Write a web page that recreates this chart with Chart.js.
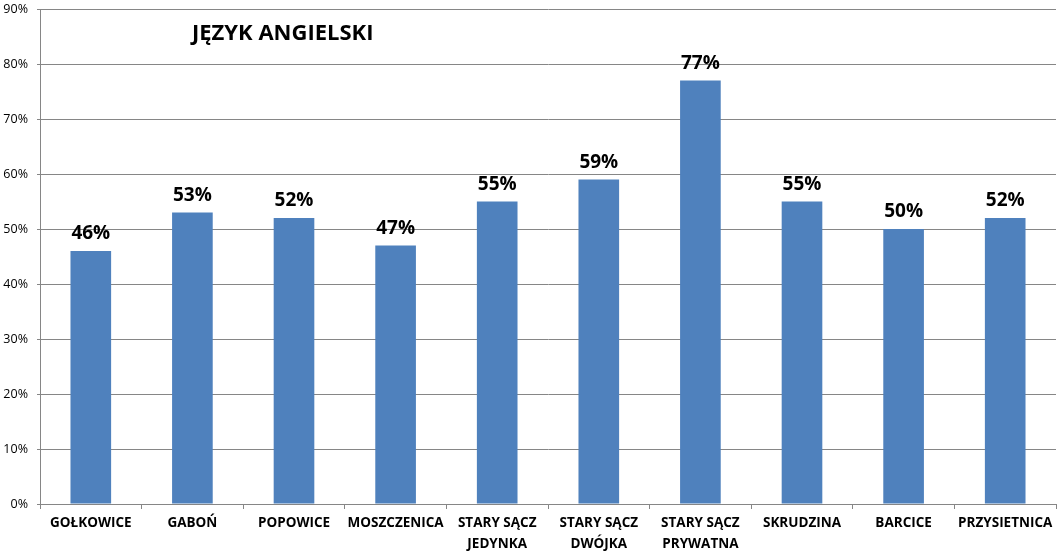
<!DOCTYPE html>
<html>
<head>
<meta charset="utf-8">
<script src="https://cdn.jsdelivr.net/npm/chart.js@4"></script>
<style>
  html, body { margin: 0; padding: 0; background: #fff; }
  #wrap { width: 1064px; height: 558px; }
</style>
</head>
<body>
<div id="wrap"><canvas id="stage" width="1064" height="558"></canvas></div>
<script>
// dane
var schools = ["GOŁKOWICE", "GABOŃ", "POPOWICE", "MOSZCZENICA", ["STARY SĄCZ", "JEDYNKA"], ["STARY SĄCZ", "DWÓJKA"], ["STARY SĄCZ", "PRYWATNA"], "SKRUDZINA", "BARCICE", "PRZYSIETNICA"];
var scores = [46, 53, 52, 47, 55, 59, 77, 55, 50, 52];
var chartTitle = "JĘZYK ANGIELSKI";

// etykiety nad słupkami + tytuł w polu wykresu
var labelsPlugin = {
    id: 'labelsPlugin',
    afterDatasetsDraw: function (chart) {
        var ctx = chart.ctx;
        var meta = chart.getDatasetMeta(0);
        ctx.save();
        ctx.fillStyle = '#000';
        ctx.textAlign = 'center';
        ctx.textBaseline = 'middle';
        ctx.font = 'bold 19px "Open Sans"';
        meta.data.forEach(function (bar, i) {
            ctx.fillText(scores[i] + '%', bar.x, bar.y - 17);
        });
        ctx.font = 'bold 22px "Open Sans"';
        ctx.textAlign = 'left';
        ctx.fillText(chartTitle, chart.chartArea.left + 152, chart.chartArea.top + 25);
        ctx.restore();
    }
};

var canvas = document.getElementById('stage');
var chart = new Chart(canvas, {
    type: 'bar',
    data: {
        labels: schools,
        datasets: [{
            data: scores,
            backgroundColor: '#4F81BD',
            barPercentage: 0.4,
            categoryPercentage: 1.0
        }]
    },
    options: {
        responsive: false,
        animation: false,
        layout: { padding: { left: 0, right: 8, top: 9, bottom: 0 } },
        plugins: {
            legend: { display: false },
            tooltip: { enabled: false }
        },
        scales: {
            x: {
                grid: { offset: true, drawOnChartArea: false, color: '#868686', tickLength: 5 },
                border: { color: '#868686' },
                ticks: {
                    color: '#000',
                    font: { family: 'Open Sans', size: 13.5, weight: 'bold', lineHeight: 1.6 },
                    maxRotation: 0, autoSkip: false, padding: 3
                },
                afterFit: function (s) { s.height = 54; s.paddingLeft = 0; s.paddingRight = 0; }
            },
            y: {
                min: 0, max: 90,
                grid: { color: '#868686', tickLength: 3 },
                border: { color: '#868686' },
                ticks: {
                    stepSize: 10,
                    color: '#000',
                    font: { family: 'Open Sans', size: 12.5 },
                    padding: 9,
                    callback: function (v) { return v + '%'; }
                },
                afterFit: function (s) { s.width = 40; s.paddingTop = 0; s.paddingBottom = 0; }
            }
        }
    },
    plugins: [labelsPlugin]
});
</script>
</body>
</html>
